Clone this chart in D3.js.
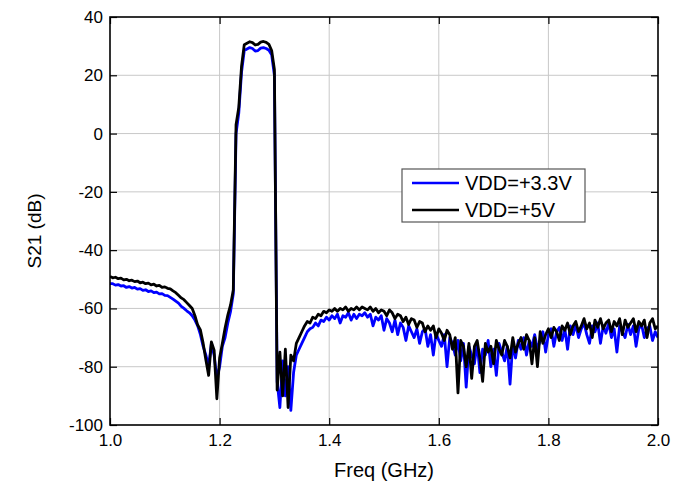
<!DOCTYPE html>
<html>
<head>
<meta charset="utf-8">
<script src="https://cdn.jsdelivr.net/npm/d3@7"></script>
<style>
  body { margin: 0; background: #fff; }
  text { font-family: Arial, "Liberation Sans", sans-serif; fill: #000; }
</style>
</head>
<body>
<svg id="chart" width="689" height="488"></svg>
<script>
// frequency samples (GHz), 5 MHz step
const freq = d3.range(201).map(i => +(1 + i * 0.005).toFixed(3));

// S21 (dB), VDD=+3.3V
const s21_33 = [
  -51.5,-51.5,-52,-51.8,-52.3,-52.2,-52.8,-52.5,-53,-52.8,
  -53.4,-53.2,-53.8,-53.6,-54.2,-54,-54.6,-54.4,-55,-54.9,
  -55.5,-55.6,-56.2,-56.8,-57.5,-58.2,-59.3,-60,-60.8,-61.5,
  -62.5,-64,-66,-69,-73,-76,-80,-72,-76,-84,
  -80,-73,-70,-65,-61,-55,0,7,21,28.5,
  29,29.5,29.2,28.3,28.5,29.3,29.5,29.2,28.6,27,
  20,-85,-94,-78,-90,-80,-95,-82,-76,-74,
  -72,-70,-68,-67,-66.5,-65,-66,-64,-64.5,-63,
  -64,-62.5,-63.5,-62,-65,-62.5,-63,-61.5,-64,-62,
  -63.5,-62,-62.5,-61.5,-63,-62,-66,-63,-64,-62.5,
  -67.5,-63.5,-65,-68,-64,-69,-65,-66.5,-71,-66,
  -68,-70,-67,-72,-68,-67,-73,-69,-76,-68.5,
  -71,-73,-69,-80,-70,-72,-76,-71,-78,-72,
  -87,-73,-76,-79,-72,-82,-74,-76,-71,-80,
  -74,-83,-72,-75,-78,-73,-86,-72,-77,-71,
  -74,-70,-76,-71,-73,-69,-74,-71,-68,-75,
  -69,-67,-73,-68,-66.5,-71,-67,-74,-66,-69,
  -65.5,-70,-67,-65,-69,-72,-66,-68,-65,-72,
  -66,-68.5,-65,-70,-67,-75,-66,-68,-70,-65.5,
  -69,-66,-73,-67,-65.5,-70,-67,-66,-71,-68,
  -70
];

// S21 (dB), VDD=+5V
const s21_5 = [
  -49,-49.5,-49.3,-49.8,-49.6,-50.2,-50,-50.5,-50.3,-50.8,
  -50.6,-51.2,-51,-51.5,-51.3,-51.9,-51.7,-52.3,-52.1,-52.8,
  -52.6,-53.1,-53.3,-54,-54.6,-55.5,-56.4,-57,-58,-59,
  -60,-62.5,-65.7,-67.4,-72,-77.7,-83,-71.5,-74.3,-91,
  -77,-72,-66.7,-62.3,-58.8,-53.7,3,9,23,30.5,
  31,31.5,31.2,30.4,30.6,31.4,31.6,31.3,30.6,28.5,
  22,-88,-75,-90,-74,-94,-76,-78,-72,-70,
  -68,-66,-64.5,-65,-63,-63.5,-62,-62.5,-61,-61.5,
  -60.5,-61,-60,-61,-60,-60.5,-59.5,-61,-60,-60.5,
  -59.5,-60.5,-59.5,-60,-60.5,-59.5,-61,-60,-61.5,-60.5,
  -61,-62.5,-60.5,-61.5,-63.5,-62,-62.5,-64.5,-63,-65.5,
  -63.5,-64,-66.5,-64.5,-65,-68,-66,-67.5,-66,-70,
  -67,-68.5,-71,-67.5,-69,-74,-70,-89,-71,-73,
  -80,-72,-84,-73,-71,-77,-85,-72,-75,-73,
  -79,-71,-74,-76,-71,-73,-77,-70,-75,-72,
  -70,-74,-69,-71,-79,-70,-80,-68,-72,-69,
  -67,-70,-66.5,-68,-71,-66,-67.5,-65,-69,-66,
  -64.5,-68,-66,-63.5,-67,-65,-70,-64,-66.5,-63.5,
  -67,-65,-64,-68,-64.5,-66,-63.5,-69,-64,-66.5,
  -65,-63.5,-68,-64.5,-66,-64,-70,-65,-63.5,-67,
  -66
];

const seriesNames = ["VDD=+3.3V", "VDD=+5V"];
const seriesColors = ["#0000ff", "#000000"];
const xTicks = [1.0, 1.2, 1.4, 1.6, 1.8, 2.0];
const yTicks = [40, 20, 0, -20, -40, -60, -80, -100];

const svg = d3.select("#chart");
const plotL = 110, plotR = 658, plotT = 17, plotB = 425;

const x = d3.scaleLinear().domain([1, 2]).range([plotL, plotR]);
const y = d3.scaleLinear().domain([-100, 40]).range([plotB, plotT]);

// grid
svg.append("g").selectAll("line")
  .data(xTicks.slice(1, -1))
  .join("line")
  .attr("x1", d => x(d)).attr("x2", d => x(d))
  .attr("y1", plotT).attr("y2", plotB)
  .attr("stroke", "#c8c8c8").attr("stroke-width", 1);
svg.append("g").selectAll("line")
  .data(yTicks.slice(1, -1))
  .join("line")
  .attr("x1", plotL).attr("x2", plotR)
  .attr("y1", d => y(d)).attr("y2", d => y(d))
  .attr("stroke", "#c8c8c8").attr("stroke-width", 1);

// curves
svg.append("defs").append("clipPath").attr("id", "clip")
  .append("rect").attr("x", plotL).attr("y", plotT)
  .attr("width", plotR - plotL).attr("height", plotB - plotT);

const line = d3.line().x((d, i) => x(freq[i])).y(d => y(d));
const plot = svg.append("g").attr("clip-path", "url(#clip)");
[s21_33, s21_5].forEach((vals, k) => {
  plot.append("path")
    .datum(vals)
    .attr("d", line)
    .attr("fill", "none")
    .attr("stroke", seriesColors[k])
    .attr("stroke-width", 2.8)
    .attr("stroke-linejoin", "round");
});

// axes, ticks pointing inward
const fmtX = d3.format(".1f");
const gx = svg.append("g").attr("transform", `translate(0,${plotB})`)
  .call(d3.axisBottom(x).tickValues(xTicks).tickFormat(fmtX).tickSize(-7).tickPadding(9));
const gxTop = svg.append("g").attr("transform", `translate(0,${plotT})`)
  .call(d3.axisTop(x).tickValues(xTicks).tickFormat("").tickSize(-7));
const gy = svg.append("g").attr("transform", `translate(${plotL},0)`)
  .call(d3.axisLeft(y).tickValues(yTicks).tickFormat(d => String(d)).tickSize(-7).tickPadding(7));
const gyRight = svg.append("g").attr("transform", `translate(${plotR},0)`)
  .call(d3.axisRight(y).tickValues(yTicks).tickFormat("").tickSize(-7));

[gx, gxTop, gy, gyRight].forEach(g => {
  g.select(".domain").remove();
  g.selectAll(".tick line").attr("stroke", "#000").attr("stroke-width", 1.2);
  g.selectAll("text").style("font-size", "17px").attr("fill", "#000");
});

// frame
svg.append("rect")
  .attr("x", plotL).attr("y", plotT)
  .attr("width", plotR - plotL).attr("height", plotB - plotT)
  .attr("fill", "none").attr("stroke", "#000").attr("stroke-width", 1.6);

// axis titles
svg.append("text")
  .attr("x", (plotL + plotR) / 2).attr("y", 477)
  .attr("text-anchor", "middle").style("font-size", "20px")
  .text("Freq (GHz)");
svg.append("text")
  .attr("transform", "translate(41,231) rotate(-90)")
  .attr("text-anchor", "middle").style("font-size", "19px")
  .text("S21 (dB)");

// legend
const legend = svg.append("g");
legend.append("rect")
  .attr("x", 402).attr("y", 169).attr("width", 183).attr("height", 53)
  .attr("fill", "#fff").attr("stroke", "#555").attr("stroke-width", 1.2);
seriesNames.forEach((name, k) => {
  const ly = 183 + k * 27;
  legend.append("line")
    .attr("x1", 412).attr("x2", 459).attr("y1", ly).attr("y2", ly)
    .attr("stroke", seriesColors[k]).attr("stroke-width", 2.6);
  legend.append("text")
    .attr("x", 465).attr("y", ly + 7)
    .style("font-size", "20px")
    .text(name);
});
</script>
</body>
</html>
